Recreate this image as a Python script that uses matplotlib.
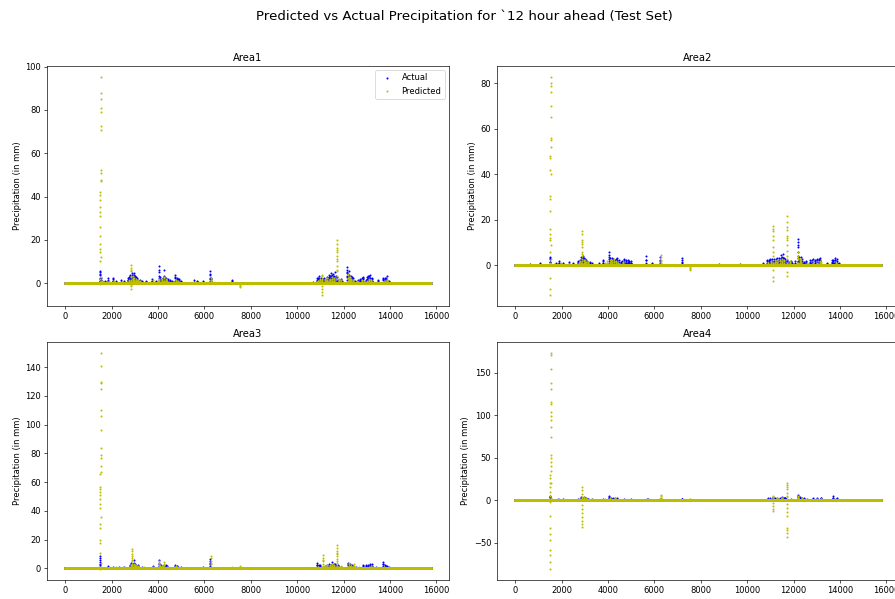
import numpy as np
import matplotlib
matplotlib.use("Agg")
import matplotlib.pyplot as plt

# Number of hourly samples in the test set
n_samples = 15760

# Rain events: (start hour, consecutive hourly values in mm)
area1_actual = [
    (1500, [0.3, 1.2, 2.5, 4.1, 5.8, 5.2, 3.6, 2.0, 0.8]), (1560, [0.5, 1.5, 2.4, 1.1]),
    (1700, [0.4, 0.9, 0.5]), (1850, [0.6, 1.4, 2.2, 1.0]), (2050, [0.8, 1.9, 2.6, 1.2]),
    (2200, [0.5, 1.1, 0.4]), (2400, [0.7, 1.5, 0.6]), (2550, [0.4, 0.8]),
    (2700, [1.0, 1.6, 2.2, 1.3]), (2760, [0.8, 1.9, 2.7, 1.5]), (2800, [1.5, 2.8, 3.9, 3.1, 2.0]),
    (2840, [1.1, 2.4, 3.2, 2.2]), (2870, [2.2, 3.6, 4.6, 3.0, 1.4]), (2910, [1.4, 2.9, 3.8, 2.6, 1.2]),
    (2950, [1.8, 3.3, 4.8, 3.9, 2.5, 1.1]), (3000, [1.2, 2.5, 3.4, 2.1]), (3050, [0.9, 2.0, 2.9, 1.6]),
    (3100, [0.7, 1.6, 2.2, 1.0]), (3150, [0.6, 1.3, 0.7]), (3220, [0.5, 1.2, 1.6, 0.8]),
    (3300, [0.5, 1.0, 0.6]), (3500, [0.4, 0.9, 0.5]), (3750, [0.8, 1.9, 1.0]), (3900, [0.5, 1.2, 0.6]),
    (4050, [1.4, 3.5, 6.0, 7.8, 5.0, 2.6]), (4100, [0.9, 2.0, 2.8, 1.4]), (4150, [0.9, 2.1, 1.3]),
    (4200, [0.8, 1.8, 2.5, 1.1]), (4250, [1.6, 3.2, 6.3, 2.9]), (4300, [0.9, 1.9, 2.6, 1.2]),
    (4350, [0.8, 1.7, 2.4, 1.5]), (4420, [0.6, 1.4, 2.0, 0.9]), (4500, [0.6, 1.5, 0.9]),
    (4600, [0.5, 1.1, 0.6]), (4750, [1.2, 2.4, 3.6, 2.8, 1.5]), (4800, [0.8, 1.7, 2.3, 1.0]),
    (4850, [0.7, 1.9, 1.1]), (4920, [0.6, 1.3, 1.7, 0.8]), (5000, [0.6, 1.2, 0.5]),
    (5550, [0.5, 1.3]), (5700, [0.6, 1.0, 0.4]), (5950, [0.4, 0.9]),
    (6250, [1.0, 2.6, 4.4, 5.5, 3.8, 2.0]), (6300, [0.8, 1.9, 2.6, 1.1]), (7200, [0.5, 1.5, 1.0]),
    (10700, [0.3, 0.7]), (10850, [0.7, 1.6, 2.4, 1.1]), (10900, [0.8, 1.7, 2.2, 1.0]),
    (10950, [1.2, 2.3, 3.5, 2.0]), (11020, [0.9, 1.8, 2.5, 1.2]),
    (11100, [0.6, 1.4, 2.0, 1.0]), (11150, [0.7, 1.6, 2.3, 1.1]), (11200, [0.8, 1.8, 1.2]),
    (11280, [1.0, 2.1, 2.9, 1.4]), (11350, [1.5, 2.8, 3.6, 2.3]), (11400, [1.2, 2.5, 3.3, 1.9]),
    (11450, [1.0, 2.2, 4.9, 3.3, 1.8]), (11500, [1.3, 2.7, 3.8, 2.1]), (11550, [1.6, 3.0, 4.3, 2.9]),
    (11600, [1.2, 2.6, 3.5, 2.0]), (11650, [1.1, 2.4, 5.2, 3.1]), (11700, [0.9, 2.0, 2.9, 1.4]),
    (11800, [0.6, 1.5, 0.8]), (11870, [0.7, 1.6, 2.1, 1.0]), (11950, [0.5, 1.1]),
    (12150, [1.4, 2.9, 4.5, 6.2, 7.5, 5.1, 3.3]), (12200, [1.3, 2.8, 4.1, 2.6]),
    (12250, [1.8, 3.4, 5.5, 4.0, 2.2]), (12300, [1.1, 2.3, 3.2, 1.7]), (12350, [0.9, 1.8, 3.0, 1.5]),
    (12420, [0.7, 1.6, 2.2, 1.0]), (12500, [0.6, 1.2, 0.7]), (12600, [0.5, 1.1, 1.5, 0.7]),
    (12700, [0.8, 1.6, 2.1, 1.0]), (12780, [0.9, 1.9, 2.6, 1.2]), (12850, [1.2, 2.4, 3.0, 1.8]),
    (12950, [0.7, 1.5, 0.9]), (13000, [1.0, 2.1, 2.7, 1.3]), (13050, [1.3, 2.5, 3.3, 2.0]),
    (13100, [1.1, 2.3, 3.1, 1.6]), (13150, [1.0, 2.2, 3.6, 2.4]), (13220, [0.8, 1.7, 2.3, 1.1]),
    (13500, [0.6, 1.4, 0.8]), (13700, [1.5, 2.6, 1.9]), (13780, [0.9, 1.8, 2.4, 1.1]),
    (13850, [1.0, 2.4, 3.1, 1.6]), (13950, [0.5, 1.1]),
]
area1_predicted = [
    (1505, [-0.6, 0.5, 2.0, 10.4, 14.3, 15.9, 18.2, 22.0, 25.7, 31.0, 33.0, 35.3, 38.4, 40.7, 42.3,
            47.4, 50.9, 52.4, 70.6, 72.6, 78.8, 80.7, 85.0, 88.0, 95.2, 47.0, 12.0, 3.0, 1.0]),
    (1600, [0.4, 1.0, 0.6]), (1900, [0.3, 0.8, 0.4]), (2100, [0.5, 1.0, 0.6]), (2450, [0.3, 0.7]),
    (2760, [0.6, 1.3, 0.9]), (2840, [1.0, 3.0, 5.5, 7.2, 8.4, 6.1, 3.5, 1.6, -1.5, -2.6, -0.8]),
    (2900, [0.8, 2.1, 3.4, 2.0, 0.9]), (2940, [0.7, 1.6, 2.3, 1.2]), (2980, [0.6, 1.5, 2.2, 1.1]),
    (3030, [0.5, 1.3, 1.8, 0.9]), (3080, [0.5, 1.2, 0.7]), (3130, [0.4, 1.0, 1.4, 0.6]),
    (3200, [0.4, 0.9]), (3800, [0.5, 1.3, 0.7]), (4060, [0.5, 1.2, 2.0, 1.4]),
    (4160, [0.6, 1.3, 1.8, 0.8]), (4260, [0.8, 2.5, 3.0, 1.2]), (4330, [0.6, 1.4, 1.9, 0.9]),
    (4400, [0.5, 1.0]), (4760, [0.6, 1.4, 0.8]), (4860, [0.5, 1.1, 0.6]),
    (6270, [0.6, 1.6, 2.2, 1.0]), (7550, [-0.4, -1.2, -1.6, -0.8]),
    (10900, [0.5, 1.2, 0.8]), (10980, [0.6, 1.4, 1.9, 0.9]),
    (11080, [-5.5, -4.2, -2.8, -1.5, 0.8, 2.1, 3.2, 4.0, 1.5]),
    (11200, [0.6, 1.3, 1.8, 0.8]), (11300, [0.8, 1.6, 2.4, 1.2]), (11400, [0.7, 1.5, 2.1, 1.0]),
    (11500, [0.9, 2.0, 2.8, 1.4]), (11600, [0.8, 1.8, 2.4, 1.1]),
    (11720, [2.0, 5.5, 8.1, 10.2, 12.4, 14.3, 16.1, 18.0, 20.1, 15.5, 11.0, 6.2, 3.1]),
    (11800, [0.7, 1.5, 2.0, 0.9]), (11900, [0.6, 1.3, 0.7]), (12180, [1.0, 2.4, 3.6, 4.2, 2.5]),
    (12230, [0.9, 2.0, 2.9, 1.3]), (12280, [0.8, 1.9, 2.7, 1.3]), (12330, [0.7, 1.5, 2.1, 1.0]),
    (12400, [0.6, 1.5, 0.8]), (12600, [0.5, 1.2, 0.6]), (12800, [0.5, 1.1, 1.5, 0.7]),
    (13000, [0.4, 1.0, 0.7]), (13080, [0.6, 1.3, 1.7, 0.8]), (13200, [0.6, 1.4, 0.9]),
    (13800, [0.5, 1.1, 0.6]), (13880, [0.5, 1.2, 1.5, 0.7]),
]

area2_actual = [
    (650, [0.3, 0.6]), (1050, [0.4, 1.0, 0.5]), (1500, [0.5, 1.6, 2.8, 3.9, 3.1, 1.7, 0.6]),
    (1750, [0.4, 1.0, 0.6]), (1900, [0.6, 1.3, 2.0, 0.9]), (2050, [0.5, 1.2, 0.7]),
    (2300, [0.6, 1.4, 0.8]), (2500, [0.5, 1.1]), (2700, [0.8, 1.6, 2.1, 1.0]),
    (2780, [0.9, 1.9, 2.6, 1.3]), (2850, [1.3, 2.6, 3.7, 2.4, 1.2]), (2890, [1.1, 2.3, 3.2, 1.7]),
    (2920, [1.8, 3.2, 4.1, 3.0, 1.5]), (2960, [1.2, 2.4, 3.3, 1.8]), (3000, [1.0, 2.1, 2.9, 1.3]),
    (3060, [0.8, 1.8, 2.4, 1.1]), (3120, [0.6, 1.4, 0.9]), (3200, [0.6, 1.3, 1.7, 0.8]),
    (3300, [0.5, 1.0, 0.4]), (3600, [0.4, 0.9]), (3800, [0.9, 1.9, 2.3, 1.1]),
    (4050, [1.2, 3.0, 4.8, 6.1, 3.9, 1.8]), (4100, [1.0, 2.2, 3.1, 1.5]), (4150, [0.9, 2.2, 3.5, 1.4]),
    (4220, [0.8, 1.9, 2.7, 1.2]), (4300, [0.8, 1.7, 2.6, 1.2]), (4350, [0.9, 2.0, 2.8, 1.3]),
    (4400, [1.0, 2.3, 3.5, 2.0]), (4470, [0.8, 1.7, 2.4, 1.1]), (4550, [0.6, 1.4, 0.8]),
    (4620, [0.7, 1.5, 2.1, 1.0]), (4700, [1.1, 2.2, 3.0, 1.6]), (4780, [0.9, 1.9, 2.6, 1.2]),
    (4850, [0.8, 1.7, 2.3, 1.0]), (4920, [0.7, 1.5, 2.0, 0.9]), (5000, [0.5, 1.2, 1.8, 0.9]),
    (5650, [1.0, 2.6, 4.0, 2.2]), (5900, [0.6, 1.3, 0.7]), (6250, [1.1, 2.5, 3.6, 2.0]),
    (7200, [1.2, 2.4, 3.5, 1.6]), (8800, [0.3, 0.5]), (9700, [0.4, 0.6]), (10700, [0.4, 0.9]),
    (10850, [0.8, 1.8, 2.5, 1.2]), (10930, [0.9, 1.9, 2.4, 1.1]), (11000, [1.1, 2.4, 3.0, 1.5]),
    (11070, [0.9, 2.0, 2.7, 1.3]), (11150, [0.9, 2.1, 2.9, 1.4]), (11220, [1.0, 2.2, 2.8, 1.3]),
    (11300, [1.2, 2.3, 3.1, 1.8]), (11380, [1.1, 2.4, 3.3, 1.7]),
    (11450, [1.5, 3.0, 4.6, 3.4, 1.7]), (11500, [1.2, 2.6, 3.6, 1.9]),
    (11550, [1.4, 3.1, 5.0, 3.3, 1.5]), (11600, [1.1, 2.4, 3.4, 1.8]), (11650, [1.0, 2.0, 2.8, 1.2]),
    (11720, [0.9, 1.9, 2.6, 1.2]), (11800, [0.6, 1.4, 0.8]), (11870, [0.7, 1.5, 2.0, 0.9]),
    (11950, [0.5, 1.2, 0.6]), (12050, [0.6, 1.3, 1.8, 0.8]),
    (12180, [1.5, 3.4, 6.0, 9.0, 10.2, 11.6, 8.1, 4.2, 2.0]), (12240, [1.2, 2.7, 3.8, 2.0]),
    (12300, [1.1, 2.6, 3.9, 2.1]), (12370, [0.9, 2.0, 2.7, 1.3]),
    (12450, [0.7, 1.5, 0.9]), (12550, [0.6, 1.4, 1.9, 0.9]), (12700, [0.8, 1.7, 2.4, 1.1]),
    (12780, [0.9, 1.9, 2.5, 1.2]), (12850, [1.0, 2.1, 2.7, 1.3]), (12920, [0.9, 1.9, 2.6, 1.2]),
    (13000, [1.2, 2.3, 3.0, 1.6]), (13080, [1.0, 2.2, 2.9, 1.4]), (13150, [1.0, 2.4, 3.1, 1.8]),
    (13450, [0.6, 1.3, 0.8]), (13650, [0.8, 1.6, 2.2, 1.0]), (13720, [0.9, 1.9, 2.6, 1.2]),
    (13800, [1.1, 2.5, 3.4, 2.6, 1.2]), (13870, [0.9, 2.0, 2.9, 1.3]), (13950, [0.5, 1.2]),
]
area2_predicted = [
    (1505, [-13.0, -10.5, -5.3, 1.0, 6.0, 11.0, 12.0, 14.0, 16.0, 24.0, 29.0, 30.7, 42.0, 47.0, 48.0,
            52.0, 55.0, 56.0, 65.0, 70.0, 76.0, 79.0, 80.0, 82.8, 40.0, 9.0, 3.0, 0.8]),
    (1650, [0.3, 0.7, 0.4]), (1950, [0.4, 0.9, 0.5]), (2300, [0.3, 0.8]), (2750, [0.5, 1.2, 0.7]),
    (2810, [0.7, 1.5, 2.1, 1.0]),
    (2870, [1.2, 3.0, 4.1, 6.0, 8.0, 9.5, 10.5, 14.0, 15.0, 11.0, 5.0, 2.0]),
    (2950, [0.8, 1.9, 2.6, 1.3]), (3000, [0.7, 1.6, 2.2, 1.0]), (3050, [0.6, 1.4, 0.8]),
    (3150, [0.5, 1.2, 1.6, 0.7]), (3850, [0.5, 1.1, 0.6]), (3950, [0.6, 1.3, 1.8, 0.8]),
    (4080, [0.6, 1.5, 2.3, 1.1]), (4180, [0.7, 1.6, 2.2, 1.0]), (4250, [0.8, 2.1, 3.0, 1.4]),
    (4330, [0.7, 1.5, 2.0, 0.9]), (4450, [0.6, 1.3, 0.7]), (4650, [0.5, 1.2, 1.6, 0.7]),
    (6280, [0.9, 2.2, 3.6, 4.5, 2.0]), (7550, [-0.5, -1.4, -2.1, -1.0]),
    (10900, [0.4, 1.0, 0.6]), (11020, [0.6, 1.4, 2.0, 0.9]),
    (11100, [-6.8, -5.0, -2.0, 1.0, 4.0, 8.0, 11.0, 13.0, 15.0, 16.0, 17.3, 6.0]),
    (11200, [0.7, 1.6, 2.3, 1.0]), (11300, [0.7, 1.6, 2.4, 1.1]), (11420, [0.8, 1.8, 2.5, 1.2]),
    (11500, [0.9, 2.0, 3.0, 1.4]), (11600, [0.8, 1.8, 2.6, 1.2]),
    (11720, [-4.5, -3.0, 1.0, 4.0, 6.5, 9.0, 11.0, 13.0, 15.5, 17.0, 19.0, 21.8, 12.0, 3.0]),
    (11850, [0.6, 1.4, 1.9, 0.9]), (12190, [1.2, 2.8, 4.1, 6.0, 3.5, 1.3]),
    (12260, [0.9, 2.0, 2.8, 1.3]), (12320, [0.8, 1.7, 2.3, 1.0]),
    (12600, [0.5, 1.1, 0.6]), (12820, [0.6, 1.3, 1.8, 0.8]), (13000, [0.6, 1.2, 0.7]),
    (13120, [0.6, 1.4, 1.9, 0.9]), (13200, [0.7, 1.5, 0.8]), (13850, [0.5, 1.2, 0.6]),
]

area3_actual = [
    (1500, [0.8, 2.5, 4.6, 7.0, 9.0, 6.2, 3.4, 1.1]), (1850, [0.6, 1.4, 0.8]),
    (2050, [0.5, 1.2, 0.6]), (2300, [0.4, 0.9]), (2550, [0.5, 1.1, 0.6]),
    (2800, [0.8, 1.8, 2.5, 1.2]), (2850, [1.2, 2.6, 3.8, 2.1]), (2900, [1.0, 2.2, 3.0, 1.5]),
    (2950, [1.6, 3.4, 5.6, 3.9, 1.8]), (3000, [1.0, 2.1, 2.9, 1.4]), (3050, [0.9, 2.0, 1.2]),
    (3120, [0.7, 1.6, 2.1, 1.0]), (3300, [0.5, 1.0]), (3800, [0.6, 1.5, 0.8]),
    (4050, [1.3, 3.2, 6.0, 4.1, 1.7]), (4120, [0.9, 2.0, 2.7, 1.3]),
    (4250, [0.8, 1.8, 2.5, 1.1]), (4330, [0.7, 1.6, 2.2, 1.0]), (4400, [0.6, 1.4, 0.8]),
    (4750, [0.9, 1.9, 2.5, 1.2]), (4820, [0.6, 1.4, 1.9, 0.8]),
    (5000, [0.4, 0.9]), (5950, [0.5, 1.0]), (6250, [1.2, 3.0, 5.0, 6.5, 3.8, 1.4]),
    (10850, [1.0, 2.2, 4.0, 2.6, 1.1]), (10920, [0.8, 1.8, 2.4, 1.1]),
    (11000, [0.7, 1.6, 2.2, 1.0]), (11200, [0.6, 1.4, 0.9]), (11280, [0.7, 1.6, 2.2, 1.0]),
    (11350, [0.9, 2.0, 2.8, 1.3]), (11420, [0.8, 1.9, 2.5, 1.2]), (11500, [1.2, 2.6, 4.5, 3.0, 1.4]),
    (11580, [0.9, 2.0, 2.8, 1.3]), (11650, [0.9, 2.1, 3.4, 1.6]), (11750, [0.7, 1.6, 2.2, 1.0]),
    (11900, [0.6, 1.3, 0.7]), (12200, [1.1, 2.5, 4.0, 2.8, 1.3]), (12270, [0.9, 2.0, 2.9, 1.4]),
    (12350, [0.8, 1.7, 2.2, 1.0]), (12550, [0.5, 1.1, 0.6]), (12850, [0.9, 1.8, 2.4, 1.1]),
    (12950, [0.7, 1.6, 2.1, 1.0]), (13050, [0.8, 1.9, 2.6, 1.2]), (13150, [1.1, 2.2, 3.0, 1.5]),
    (13220, [0.9, 2.0, 2.8, 1.3]), (13400, [0.5, 1.0]), (13700, [1.2, 2.8, 4.5, 3.1, 1.4]),
    (13780, [0.8, 1.8, 2.5, 1.1]), (13850, [0.7, 1.6, 2.0, 0.9]), (13950, [0.4, 0.8]),
]
area3_predicted = [
    (1505, [-0.5, 1.0, 11.0, 18.0, 20.0, 28.0, 31.0, 42.0, 45.0, 48.0, 51.0, 53.0, 55.0, 56.6, 66.0,
            67.0, 71.0, 77.0, 78.6, 84.0, 96.5, 105.8, 110.0, 124.6, 129.0, 129.7, 140.8, 149.9, 36.0, 4.0]),
    (1900, [0.4, 0.9, 0.5]), (2200, [0.3, 0.7]), (2500, [0.4, 0.8]), (2820, [0.7, 1.6, 2.2, 1.0]),
    (2870, [1.5, 3.0, 5.0, 7.0, 9.0, 12.0, 13.5, 10.0, 6.0, 2.5]), (2950, [0.9, 2.1, 3.0, 1.4]),
    (3000, [0.8, 1.8, 2.5, 1.1]), (3050, [0.6, 1.4, 0.8]), (3150, [0.5, 1.2, 1.7, 0.8]),
    (3400, [0.4, 0.9]), (3800, [0.5, 1.2, 0.6]), (4060, [0.9, 2.4, 3.8, 5.0, 2.0]),
    (4150, [0.6, 1.4, 2.0, 0.9]), (4250, [1.0, 2.6, 4.5, 3.1, 1.2]), (4400, [0.5, 1.1, 0.6]),
    (4760, [0.6, 1.5, 2.0, 0.9]), (6270, [1.0, 2.8, 5.0, 7.0, 8.5, 4.0, 1.2]),
    (7200, [0.5, 1.2, 0.6]), (7550, [0.6, 1.5, 0.7]), (8900, [0.2, 0.4]),
    (10900, [0.5, 1.2, 0.7]), (11100, [1.0, 3.0, 5.5, 7.5, 9.5, 6.0, 2.0]),
    (11200, [0.6, 1.3, 1.8, 0.8]), (11300, [0.7, 1.6, 2.5, 1.1]), (11400, [0.7, 1.5, 2.1, 1.0]),
    (11500, [0.9, 2.2, 3.1, 1.5]), (11600, [0.8, 1.8, 2.6, 1.2]),
    (11720, [1.5, 4.0, 6.5, 9.0, 11.0, 12.0, 14.0, 16.0, 10.0, 5.0, 2.0]),
    (11900, [0.6, 1.4, 0.7]), (12230, [0.8, 1.9, 3.0, 3.8, 1.5]), (12330, [0.6, 1.4, 2.0, 0.9]),
    (12450, [0.7, 1.6, 2.8, 1.0]), (12650, [0.4, 0.9]), (13100, [0.5, 1.1, 0.6]),
    (13180, [0.6, 1.3, 1.8, 0.8]), (13750, [0.6, 1.3, 0.7]),
]

area4_actual = [
    (1500, [0.6, 1.8, 3.5, 5.5, 4.1, 2.0, 0.7]), (1850, [0.5, 1.2, 0.6]), (2050, [0.4, 1.0]),
    (2400, [0.5, 0.9]), (2700, [0.6, 1.4, 0.8]), (2850, [1.1, 2.5, 3.4, 1.6]),
    (2900, [0.9, 2.0, 2.8, 1.3]), (2950, [1.4, 2.9, 4.0, 2.2, 1.0]), (3000, [1.0, 2.2, 3.1, 1.4]),
    (3050, [0.8, 1.7, 2.5, 1.1]), (3150, [0.6, 1.4, 1.9, 0.9]), (3300, [0.5, 1.1, 0.6]),
    (3800, [0.6, 1.5, 0.8]), (4050, [1.2, 3.0, 5.2, 3.4, 1.5]), (4120, [0.9, 2.1, 3.0, 1.4]),
    (4200, [0.9, 2.0, 2.8, 1.2]), (4300, [0.8, 1.8, 2.5, 1.1]), (4400, [0.7, 1.6, 2.2, 1.0]),
    (4700, [0.6, 1.3, 0.7]), (5000, [0.5, 1.0]), (5700, [0.6, 1.5, 2.0, 0.9]),
    (6250, [0.8, 1.8, 1.1]), (7200, [0.7, 1.6, 2.0, 1.0]),
    (10900, [0.8, 1.9, 2.6, 1.2]), (11000, [0.7, 1.6, 2.2, 1.0]), (11100, [1.0, 2.2, 3.5, 1.8]),
    (11200, [0.8, 1.8, 2.4, 1.1]), (11300, [0.9, 2.0, 2.8, 1.3]), (11400, [0.9, 2.1, 2.9, 1.4]),
    (11500, [1.2, 2.6, 3.8, 2.0]), (11580, [1.0, 2.2, 3.0, 1.5]), (11650, [1.0, 2.3, 3.1, 1.5]),
    (11900, [0.6, 1.4, 0.8]), (12180, [1.5, 3.4, 5.2, 6.5, 4.0, 1.7]), (12260, [1.1, 2.5, 3.5, 1.7]),
    (12350, [0.9, 2.0, 2.9, 1.3]), (12450, [0.7, 1.6, 2.2, 1.0]), (12600, [0.5, 1.1]),
    (12850, [0.8, 1.7, 2.3, 1.0]), (13000, [0.9, 1.9, 2.5, 1.2]), (13200, [1.0, 2.2, 3.0, 1.4]),
    (13700, [1.3, 2.9, 4.6, 3.2, 1.5]), (13850, [0.8, 1.8, 2.6, 1.1]), (13950, [0.4, 0.9]),
]
area4_predicted = [
    (1505, [-81.0, -72.0, -64.0, -58.0, -47.0, -40.0, -33.0, -18.0, -2.0, 5.0, 10.0, 16.0, 21.0, 26.0,
            30.0, 35.0, 40.0, 45.0, 50.0, 53.0, 74.6, 86.0, 94.0, 99.0, 104.0, 113.0, 115.9, 131.6,
            138.6, 154.0, 171.0, 173.6, 20.0, 3.0]),
    (1900, [0.5, 1.1, 0.6]), (2300, [0.4, 0.9]), (2750, [0.6, 1.4, 0.7]),
    (2870, [-31.0, -28.0, -24.0, -20.0, -15.0, -10.0, -5.0, 4.0, 8.0, 12.0, 15.5, 3.0]),
    (2950, [0.9, 2.2, 3.5, 1.6]), (3050, [0.7, 1.6, 2.4, 1.0]), (3300, [0.5, 1.2, 0.6]),
    (3850, [0.5, 1.3, 0.7]), (4080, [0.8, 2.0, 3.0, 1.4]), (4300, [0.7, 1.7, 2.5, 1.1]),
    (6280, [1.0, 3.0, 4.8, 6.0, 2.5]), (7550, [0.6, 1.5, 2.0, 0.8]),
    (10950, [0.5, 1.2, 0.6]), (11100, [-12.0, -10.0, -7.0, -3.0, 2.0, 4.0, 5.0, 1.5]),
    (11300, [0.8, 1.9, 2.8, 1.2]), (11500, [1.0, 2.3, 3.2, 1.5]),
    (11720, [-43.5, -39.0, -35.0, -32.0, -19.0, -14.0, -9.0, -4.0, 5.0, 9.0, 13.0, 16.0, 18.5, 20.5, 4.0]),
    (11900, [0.6, 1.4, 0.8]), (12200, [1.2, 2.8, 4.5, 5.5, 3.0, 1.2]), (12350, [0.8, 1.8, 2.6, 1.1]),
    (12600, [0.5, 1.1, 0.6]), (13000, [0.6, 1.3, 0.7]), (13200, [0.7, 1.6, 2.1, 0.9]),
    (13750, [0.6, 1.4, 0.8]),
]

area_names = ["Area1", "Area2", "Area3", "Area4"]
actual_events = [area1_actual, area2_actual, area3_actual, area4_actual]
predicted_events = [area1_predicted, area2_predicted, area3_predicted, area4_predicted]


def to_series(events, n):
    """Hourly series that is zero outside the listed rain events."""
    y = np.zeros(n)
    for start, values in events:
        y[start:start + len(values)] = values
    return y


hours = np.arange(n_samples)

W, H = 895, 599
fig = plt.figure(figsize=(W / 60, H / 60), dpi=60)

# Axes boxes in pixels: (left, top, right, bottom)
boxes = [(47, 66, 449, 306), (497, 66, 899, 306),
         (47, 342, 449, 580), (497, 342, 899, 580)]

for i, name in enumerate(area_names):
    l, t, r, b = boxes[i]
    ax = fig.add_axes([l / W, 1 - b / H, (r - l) / W, (b - t) / H])
    actual = to_series(actual_events[i], n_samples)
    predicted = to_series(predicted_events[i], n_samples)
    ax.scatter(hours, actual, s=2, c="b", label="Actual")
    ax.scatter(hours, predicted, s=2, c="y", label="Predicted")
    ax.set_title(name, fontsize=12)
    ax.set_ylabel("Precipitation (in mm)", fontsize=10)
    ax.tick_params(labelsize=10)
    if i == 0:
        ax.legend(loc="upper right", fontsize=10)

fig.suptitle("Predicted vs Actual Precipitation for `12 hour ahead (Test Set)",
             fontsize=16, x=464 / W, y=1 - 16 / H, va="center")

fig.savefig("out.png", dpi=60)
